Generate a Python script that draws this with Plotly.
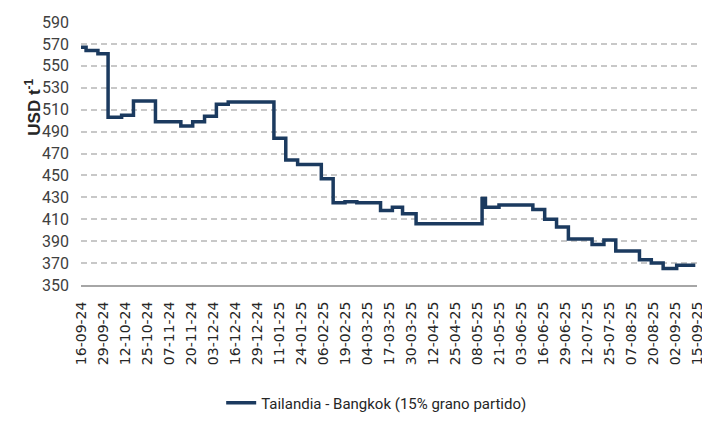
import plotly.graph_objects as go

# price change dates (step series) and values, USD per tonne
dates = [
    "2024-09-16", "2024-09-19", "2024-09-26", "2024-10-02", "2024-10-10",
    "2024-10-17", "2024-10-30", "2024-11-14", "2024-11-21", "2024-11-28",
    "2024-12-05", "2024-12-12", "2025-01-08", "2025-01-15", "2025-01-22",
    "2025-02-05", "2025-02-12", "2025-02-19", "2025-02-26", "2025-03-12",
    "2025-03-19", "2025-03-25", "2025-04-02", "2025-05-08", "2025-05-11",
    "2025-05-13", "2025-05-21", "2025-06-10", "2025-06-17", "2025-06-24",
    "2025-07-01", "2025-07-15", "2025-07-22", "2025-07-29", "2025-08-12",
    "2025-08-19", "2025-08-26", "2025-09-03", "2025-09-14",
]
prices = [
    567, 564, 561, 503, 505,
    518, 499, 495, 499, 504,
    515, 517, 484, 464, 460,
    447, 425, 426, 425, 418,
    421, 415, 406, 406, 429,
    421, 423, 419, 410, 403,
    392, 387, 391, 381, 373,
    370, 365, 368, 368,
]

tick_dates = [
    "2024-09-16", "2024-09-29", "2024-10-12", "2024-10-25", "2024-11-07",
    "2024-11-20", "2024-12-03", "2024-12-16", "2024-12-29", "2025-01-11",
    "2025-01-24", "2025-02-06", "2025-02-19", "2025-03-04", "2025-03-17",
    "2025-03-30", "2025-04-12", "2025-04-25", "2025-05-08", "2025-05-21",
    "2025-06-03", "2025-06-16", "2025-06-29", "2025-07-12", "2025-07-25",
    "2025-08-07", "2025-08-20", "2025-09-02", "2025-09-15",
]
tick_labels = [
    "16-09-24", "29-09-24", "12-10-24", "25-10-24", "07-11-24",
    "20-11-24", "03-12-24", "16-12-24", "29-12-24", "11-01-25",
    "24-01-25", "06-02-25", "19-02-25", "04-03-25", "17-03-25",
    "30-03-25", "12-04-25", "25-04-25", "08-05-25", "21-05-25",
    "03-06-25", "16-06-25", "29-06-25", "12-07-25", "25-07-25",
    "07-08-25", "20-08-25", "02-09-25", "15-09-25",
]

series_name = "Tailandia - Bangkok (15% grano partido)"

narrow = "Roboto, sans-serif"

fig = go.Figure()
fig.add_trace(go.Scatter(
    x=dates, y=prices, mode="lines", name=series_name,
    line=dict(color="#1B3A5F", width=3.5, shape="hv"),
))

fig.update_layout(
    width=710, height=423,
    margin=dict(l=73, r=21, t=14, b=137),
    paper_bgcolor="white", plot_bgcolor="white",
    showlegend=True,
    legend=dict(
        orientation="h", x=0.48, y=-0.449, xanchor="center", yanchor="middle",
        font=dict(family=narrow, size=15, color="#262626"),
    ),
    xaxis=dict(
        type="date", range=["2024-09-16", "2025-09-15"], automargin=False,
        tickvals=tick_dates, ticktext=tick_labels, tickangle=-90,
        tickfont=dict(family="DejaVu Sans", size=14, color="#262626"),
        showgrid=False, showline=True, linecolor="#a6a6a6", linewidth=2,
        ticks="", ticklabelstandoff=9,
    ),
    yaxis=dict(
        range=[350, 590], dtick=20, tick0=350, automargin=False,
        tickfont=dict(family=narrow, size=16, color="#404040"),
        showgrid=True, gridcolor="#c8c8c8", gridwidth=1.5, griddash="6px,4px",
        zeroline=False, showline=False, ticks="", ticklabelstandoff=11,
    ),
    annotations=[dict(
        text="<b>USD t<sup>-1</sup></b>", xref="paper", yref="paper",
        x=-0.0775, y=0.675, xanchor="center", yanchor="middle",
        textangle=-90, showarrow=False,
        font=dict(family="Liberation Sans", size=17, color="#262626"),
    )],
)

fig.write_html("out.html")
